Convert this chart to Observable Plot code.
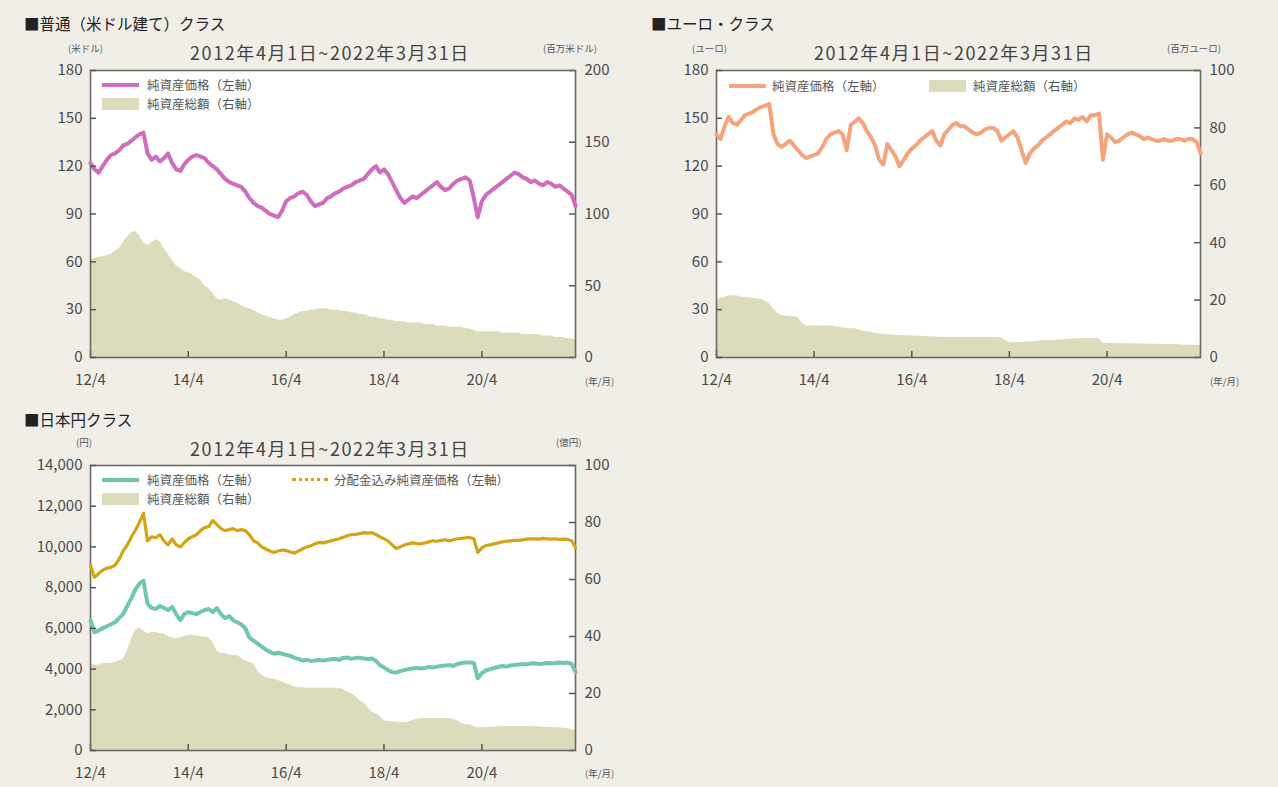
<!DOCTYPE html>
<html><head><meta charset="utf-8">
<script src="https://cdn.jsdelivr.net/npm/d3@7"></script>
<script src="https://cdn.jsdelivr.net/npm/@observablehq/plot@0.6"></script>
<style>
body{margin:0;background:#f1eee8;width:1278px;height:787px;overflow:hidden;position:relative;font-family:"Noto Sans CJK JP","Noto Sans",sans-serif;color:#333}
.abs{position:absolute;white-space:nowrap;line-height:1}
.title{font-size:15.5px;color:#222}
.sub{font-size:18px;color:#444;letter-spacing:1.6px}
.unit{font-size:9.5px;color:#555}
.leg{font-size:12.5px;color:#555}
.sw{position:absolute}
svg{position:absolute}
</style></head><body>
<div id="root"></div>
<script>
// ---- data ----
const months = d3.utcMonth.range(new Date(Date.UTC(2012,3,1)), new Date(Date.UTC(2022,3,1)));
const xTickDates = ["2012-04-01","2014-04-01","2016-04-01","2018-04-01","2020-04-01"].map(s => new Date(s));
const xTickLabels = ["12/4","14/4","16/4","18/4","20/4"];

const usdLeftTicks = [0,30,60,90,120,150,180];
const usdRightTicks = [0,50,100,150,200];
const eurLeftTicks = [0,30,60,90,120,150,180];
const eurRightTicks = [0,20,40,60,80,100];
const jpyLeftTicks = [0,2000,4000,6000,8000,10000,12000,14000];
const jpyRightTicks = [0,20,40,60,80,100];

const usdPrice = [122,118,116,120,124,127,128,130,133,
 134,136,138,140,141,128,124,126,123,125,128,122,
 118,117,121,124,126,127,126,125,122,120,118,115,
 112,110,109,108,107,104,100,97,95,94,92,90,
 89,88,92,98,100,101,103,104,102,98,95,96,
 97,100,101,103,104,106,107,108,110,111,112,115,
 118,120,116,118,115,110,105,100,97,99,101,100,
 102,104,106,108,110,107,105,106,109,111,112,113,
 111,100,88,98,102,104,106,108,110,112,114,116,
 115,113,112,110,111,109,108,110,109,107,108,106,
 104,102,95];
const usdAum = [68,69,70,70,71,72,74,76,80,
 84,87,88,85,80,78,80,82,81,76,72,68,
 64,62,60,59,58,56,54,50,48,45,41,40,
 41,40,39,38,36,35,34,33,31,30,29,28,
 27,26,26,27,28,30,31,32,32,33,33,34,
 34,34,33,33,33,32,32,31,31,30,30,29,
 28,28,27,27,26,26,25,25,25,24,24,24,
 24,23,23,23,22,22,22,21,21,21,21,20,
 20,19,18,18,18,18,18,18,17,17,17,17,
 17,16,16,16,16,16,15,15,15,14,14,14,
 13,13,12];

const eurPrice = [140,137,145,151,147,146,149,152,153,
 154,156,157,158,159,140,134,132,134,136,133,130,
 127,125,126,127,128,132,137,140,141,142,140,130,
 146,148,150,147,142,138,133,124,121,134,130,126,
 120,124,128,131,133,136,138,140,142,136,133,140,
 143,146,147,145,145,143,141,140,141,143,144,144,
 142,136,138,140,142,138,130,122,128,131,133,136,
 138,140,142,144,146,148,147,150,149,151,148,152,
 152,153,124,140,138,135,136,138,140,141,140,139,
 137,138,137,136,136,137,136,136,137,137,136,137,
 137,135,128];
const eurAum = [20,20.5,21,21.5,21.5,21.5,21,21,20.8,
 20.6,20.5,20.3,19.5,18.8,17,15.5,14.6,14.5,14.3,14.2,14,
 12,11,11,11,11,11,11,11,10.8,10.5,10.3,10.2,
 10,10,9.6,9.2,9,8.8,8.4,8.2,8,7.9,7.8,7.7,
 7.7,7.6,7.6,7.5,7.5,7.4,7.3,7.2,7.2,7.1,7,7,
 7,7,7,7,7,7,7,7,7,7,7,7,
 7,6.8,6,5.3,5.2,5.2,5.3,5.4,5.5,5.6,5.7,5.8,
 5.9,5.9,6,6.1,6.2,6.3,6.4,6.5,6.5,6.6,6.6,6.6,
 6.6,6.5,5,4.9,4.9,4.9,4.8,4.8,4.8,4.8,4.7,4.7,
 4.7,4.6,4.6,4.6,4.6,4.5,4.5,4.5,4.4,4.4,4.3,4.3,
 4.3,4.2,4.2];

const jpyPrice = [6400,5800,5900,6000,6100,6200,6300,6500,6700,
 7100,7500,7900,8200,8350,7200,7000,6950,7100,7000,6900,7050,
 6700,6400,6700,6800,6750,6700,6800,6900,6950,6800,7000,6700,
 6500,6600,6400,6300,6200,6000,5550,5400,5250,5100,4950,4850,
 4750,4800,4750,4700,4650,4550,4500,4420,4450,4400,4420,4450,
 4420,4450,4480,4500,4450,4550,4570,4500,4550,4560,4520,4500,
 4520,4400,4200,4080,3950,3850,3830,3900,3950,4000,4030,4050,
 4030,4050,4100,4080,4120,4150,4170,4200,4150,4250,4300,4320,
 4320,4300,3550,3800,3930,4000,4050,4100,4150,4120,4180,4200,
 4220,4250,4230,4270,4280,4250,4260,4300,4290,4300,4320,4300,
 4320,4250,3850];
const jpyPriceWithDiv = [9100,8500,8700,8850,8950,9000,9100,9400,9800,
 10100,10500,10800,11200,11650,10300,10500,10450,10600,10300,10100,10400,
 10100,10000,10200,10400,10500,10600,10800,10950,11000,11300,11100,10900,
 10800,10850,10900,10800,10850,10800,10600,10300,10200,10000,9900,9800,
 9725,9800,9850,9820,9750,9700,9800,9900,10000,10050,10150,10220,
 10200,10250,10300,10350,10400,10480,10550,10600,10620,10650,10700,10680,
 10700,10600,10500,10400,10300,10100,9920,10000,10100,10150,10200,10170,
 10150,10200,10250,10300,10280,10320,10350,10300,10350,10400,10420,10450,
 10460,10400,9725,9950,10070,10100,10150,10200,10250,10280,10300,10320,
 10320,10350,10380,10400,10400,10380,10420,10400,10380,10400,10370,10380,
 10370,10300,9970];
const jpyAum = [30,30,30,30.5,30.5,30.5,31,31.5,32,
 35,39,42,43,42,41,41.5,41.5,41,41,40,39.5,
 39.3,39.5,40,40.4,40.5,40.2,40,39.8,39.6,38,35,34,
 34,33.5,33.3,33.3,32.5,31.5,31,30.5,28,26.5,25.6,25.2,
 25,24.6,24,23.5,23,22.5,22,22,21.8,21.8,21.8,21.8,
 21.8,21.8,21.8,21.8,21.8,21.5,20.5,20,19,17.5,16.8,15,
 13.5,13,12,10.5,10.2,10,10,9.8,9.8,10,10.5,11,
 11.2,11.2,11.2,11.2,11.2,11.2,11.2,11.2,11,10.5,9.5,9,
 9,8.5,8,8,8,8.2,8.2,8.3,8.4,8.4,8.4,8.4,
 8.4,8.4,8.4,8.4,8.3,8.3,8.2,8.2,8.1,8,8,7.8,
 7.6,7.3,7];

// ---- colours ----
const areaColor = "#dcdcbd";
const frameColor = "#6a6a62";
const tickColor = "#555";

const rows = vals => months.map((d, i) => ({date: d, v: vals[i]}));
const xLabel = d => xTickLabels[xTickDates.findIndex(t => +t === +d)];
const fmt = d3.format(",");
const root = document.getElementById("root");

function panel({left, top, width, height, mL, mR, mT, mB, leftDomain, leftTicks, rightDomain, rightTicks, aum, lines}) {
  const fw = width - mL - mR, fh = height - mT - mB;
  const common = {width, height, marginLeft: mL, marginRight: mR, marginTop: mT, marginBottom: mB,
    style: {background: "transparent", fontSize: "15px", fontFamily: '"Noto Sans CJK JP","Noto Sans",sans-serif', color: "#4a4a4a", overflow: "visible"}};
  const bottom = Plot.plot({...common,
    x: {type: "utc", domain: [months[0], months[months.length - 1]], label: null},
    y: {domain: rightDomain, label: null},
    marks: [
      Plot.frame({fill: "white"}),
      Plot.areaY(rows(aum), {x: "date", y: "v", fill: areaColor}),
      Plot.axisY({anchor: "right", ticks: rightTicks, tickSize: 0, tickPadding: 9, tickFormat: fmt, label: null}),
      Plot.tickY(rightTicks, {y: d => d, insetLeft: fw - 6, stroke: tickColor, strokeWidth: 1.5}),
      Plot.axisX({ticks: xTickDates, tickSize: 0, tickPadding: 17, tickFormat: xLabel, label: null}),
      Plot.tickX(xTickDates, {x: d => d, insetTop: fh - 6, stroke: tickColor, strokeWidth: 1.5}),
      Plot.frame({stroke: frameColor, strokeWidth: 1.6})
    ]});
  const topSvg = Plot.plot({...common,
    x: {type: "utc", domain: [months[0], months[months.length - 1]], axis: null},
    y: {domain: leftDomain, label: null},
    marks: [
      ...lines.map(l => Plot.lineY(rows(l.values), {x: "date", y: "v", stroke: l.color, strokeWidth: l.width, strokeLinejoin: "round"})),
      Plot.axisY({anchor: "left", ticks: leftTicks, tickSize: 0, tickPadding: 8, tickFormat: fmt, label: null}),
      Plot.tickY(leftTicks, {y: d => d, insetRight: fw - 6, stroke: tickColor, strokeWidth: 1.5})
    ]});
  for (const s of [bottom, topSvg]) { s.style.left = left + "px"; s.style.top = top + "px"; root.appendChild(s); }
}

panel({left: 20, top: 55, width: 620, height: 345, mL: 70, mR: 65, mT: 15, mB: 43,
  leftDomain: [0, 180], leftTicks: usdLeftTicks, rightDomain: [0, 200], rightTicks: usdRightTicks,
  aum: usdAum, lines: [{values: usdPrice, color: "#d06cc0", width: 4}]});
panel({left: 645, top: 55, width: 620, height: 345, mL: 71, mR: 65, mT: 15, mB: 43,
  leftDomain: [0, 180], leftTicks: eurLeftTicks, rightDomain: [0, 100], rightTicks: eurRightTicks,
  aum: eurAum, lines: [{values: eurPrice, color: "#f4a47c", width: 4}]});
panel({left: 20, top: 450, width: 620, height: 345, mL: 70, mR: 65, mT: 15, mB: 45,
  leftDomain: [0, 14000], leftTicks: jpyLeftTicks, rightDomain: [0, 100], rightTicks: jpyRightTicks,
  aum: jpyAum, lines: [{values: jpyPrice, color: "#70c8a8", width: 4}, {values: jpyPriceWithDiv, color: "#d6a316", width: 3.2}]});

// ---- texts ----
function txt(cls, s, x, y, extra = "") {
  const d = document.createElement("div");
  d.className = "abs " + cls; d.textContent = s;
  d.style.cssText += `left:${x}px;top:${y}px;${extra}`;
  document.body.appendChild(d); return d;
}
function sw(x, y, w, h, css) {
  const d = document.createElement("div");
  d.className = "sw"; d.style.cssText = `left:${x}px;top:${y}px;width:${w}px;height:${h}px;${css}`;
  document.body.appendChild(d);
}
// panel 1
txt("title", "■普通（米ドル建て）クラス", 24, 16);
txt("unit", "(米ドル)", 68, 44);
txt("sub", "2012年4月1日~2022年3月31日", 190, 43);
txt("unit", "(百万米ドル)", 543, 44);
txt("unit", "(年/月)", 585, 377);
sw(102, 83, 37, 4, "background:#d06cc0");
txt("leg", "純資産価格（左軸）", 147, 79);
sw(102, 98, 37, 12, `background:${areaColor}`);
txt("leg", "純資産総額（右軸）", 147, 98);
// panel 2
txt("title", "■ユーロ・クラス", 651, 16);
txt("unit", "(ユーロ)", 692, 44);
txt("sub", "2012年4月1日~2022年3月31日", 814, 43);
txt("unit", "(百万ユーロ)", 1167, 44);
txt("unit", "(年/月)", 1210, 377);
sw(729, 84, 37, 4, "background:#f4a47c");
txt("leg", "純資産価格（左軸）", 772, 80);
sw(929, 80, 37, 12, `background:${areaColor}`);
txt("leg", "純資産総額（右軸）", 973, 80);
// panel 3
txt("title", "■日本円クラス", 24, 412);
txt("unit", "(円)", 76, 438);
txt("sub", "2012年4月1日~2022年3月31日", 190, 439);
txt("unit", "(億円)", 556, 438);
txt("unit", "(年/月)", 585, 769);
sw(102, 478, 37, 4, "background:#70c8a8");
txt("leg", "純資産価格（左軸）", 147, 474);
sw(292, 478, 36, 0, "border-top:3px dotted #d6a316");
txt("leg", "分配金込み純資産価格（左軸）", 334, 474);
sw(102, 493, 37, 12, `background:${areaColor}`);
txt("leg", "純資産総額（右軸）", 147, 493);
</script>
</body></html>
